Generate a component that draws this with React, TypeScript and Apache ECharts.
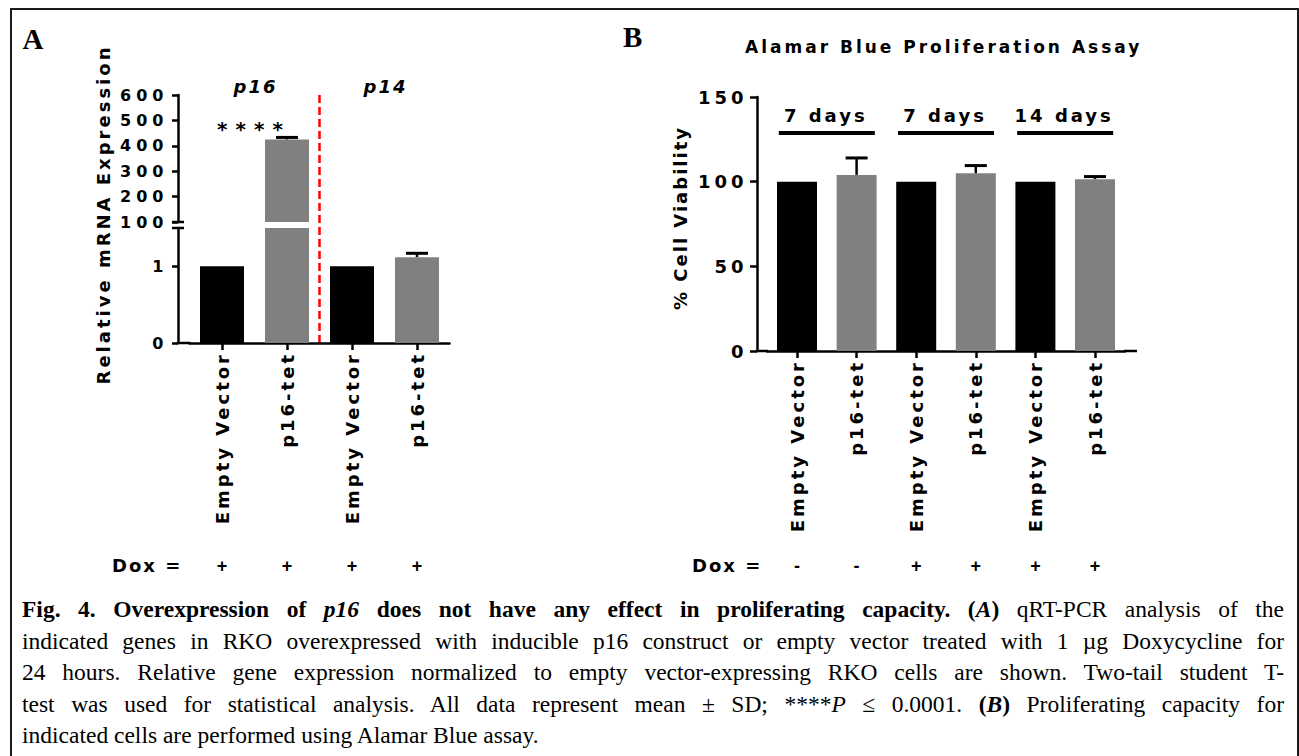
import React, { useEffect, useRef } from "react";
import * as echarts from "echarts";

// ---------------- data ----------------
// Panel A: qRT-PCR, relative mRNA expression
const categoriesA = ["Empty Vector", "p16-tet", "Empty Vector", "p16-tet"];
const meanA = [1, 425, 1, 1.12];
const sdTopA = [1, 433, 1, 1.17];
const doxA = ["+", "+", "+", "+"];
const genesA = ["p16", "p14"];
const significanceA = "****";
const upperMinA = 100;
const upperMaxA = 600;
const upperStepA = 100;
const lowerMinA = 0;
const lowerMaxA = 1.5;
const lowerStepA = 1;

// Panel B: Alamar Blue proliferation assay, % cell viability
const categoriesB = ["Empty Vector", "p16-tet", "Empty Vector", "p16-tet", "Empty Vector", "p16-tet"];
const meanB = [100, 104, 100, 105, 100, 101.5];
const sdTopB = [100, 114, 100, 109.5, 100, 103];
const doxB = ["-", "-", "+", "+", "+", "+"];
const durationsB = ["7 days", "7 days", "14 days"];
const minB = 0;
const maxB = 150;
const stepB = 50;

const barColors = ["#000000", "#808080"];

// ---------------- layout ----------------
const A_LEFT = 189.5;
const A_CAT = 65;
const A_WIDTH = A_CAT * categoriesA.length;
const A_UP_TOP = 95;
const A_UP_H = 127;
const A_LO_TOP = 228;
const A_LO_H = 115;
const A_AXIS_X = 178;
const A_BASE_Y = A_LO_TOP + A_LO_H;

const B_LEFT = 767.2;
const B_CAT = 59.6;
const B_WIDTH = B_CAT * categoriesB.length;
const B_TOP = 97;
const B_H = 254;
const B_AXIS_X = 757;
const B_BASE_Y = B_TOP + B_H;
const B_AXIS_END = 1137;

const DOX_Y = 565.5;

const SANS = "'Liberation Sans', Arial, sans-serif";
const fam = (tag: string) => `'DejaVu Sans', ${tag}, sans-serif`;
const SERIF = "'Liberation Serif', 'Times New Roman', serif";

const css = `
text[style*="lspc2"]{letter-spacing:2px}
text[style*="lspc3"]{letter-spacing:3px}
text[style*="lspc4"]{letter-spacing:4px}
text[style*="lspc5"]{letter-spacing:5px}
text[style*="lspc8"]{letter-spacing:8px}
`;

function errorRender(params: any, api: any) {
  const x = api.value(0);
  const m = api.value(1);
  const t = api.value(2);
  if (!(t > m)) return null;
  const p0 = api.coord([x, m]);
  const p1 = api.coord([x, t]);
  return {
    type: "group",
    children: [
      { type: "line", shape: { x1: p0[0], y1: p0[1], x2: p1[0], y2: p1[1] }, style: { stroke: "#000", lineWidth: 2.5 } },
      { type: "line", shape: { x1: p1[0] - 11, y1: p1[1], x2: p1[0] + 11, y2: p1[1] }, style: { stroke: "#000", lineWidth: 3 } },
    ],
  };
}

function txt(text: string, x: number, y: number, size: number, family: string, opts: any = {}) {
  const align = opts.align || "center";
  return {
    type: "text",
    x,
    y,
    rotation: opts.rotation || 0,
    silent: true,
    style: {
      text,
      fill: "#000",
      fontSize: size,
      fontWeight: opts.weight || "bold",
      fontStyle: opts.italic ? "italic" : "normal",
      fontFamily: family,
      align,
      textAlign: align,
      verticalAlign: "middle",
      textVerticalAlign: "middle",
    },
  };
}

function line(x1: number, y1: number, x2: number, y2: number, w: number, color = "#000", dash?: number[]) {
  return {
    type: "line",
    silent: true,
    shape: { x1, y1, x2, y2 },
    style: { stroke: color, lineWidth: w, lineDash: dash },
  };
}

const axisLineStyle = { show: true, lineStyle: { color: "#000", width: 2.5 } };
const tickStyle = (len: number) => ({ show: true, length: len, lineStyle: { color: "#000", width: 2.5 } });

function buildOption() {
  const colored = (vals: (number | string)[]) =>
    vals.map((v, i) => ({ value: v, itemStyle: { color: barColors[i % 2] } }));

  const graphics: any[] = [];
  // frame
  graphics.push({
    type: "rect",
    silent: true,
    shape: { x: 11, y: 9, width: 1287, height: 780 },
    style: { fill: "none", stroke: "#1a1a1a", lineWidth: 2 },
  });
  // panel letters
  graphics.push(txt("A", 22.5, 38.5, 29, SERIF, { align: "left" }));
  graphics.push(txt("B", 623, 37, 29, SERIF, { align: "left" }));

  // ---- panel A annotations ----
  graphics.push(txt("Relative mRNA Expression", 103, 214.5, 18, fam("lspc3"), { rotation: Math.PI / 2 }));
  genesA.forEach((g, k) => {
    graphics.push(txt(g, A_LEFT + A_CAT * (2 * k + 1) + 1, 86.8, 18, fam("lspc2"), { italic: true }));
  });
  graphics.push(txt(significanceA, 254, 128.7, 20, fam("lspc8")));
  // red dashed separator between genes
  graphics.push(line(A_LEFT + 2 * A_CAT, A_UP_TOP, A_LEFT + 2 * A_CAT, A_BASE_Y, 2.5, "#ff0000", [8, 4]));
  // axis break marks
  graphics.push(line(172, A_UP_TOP + A_UP_H, 184, A_UP_TOP + A_UP_H, 2.5));
  graphics.push(line(172, A_LO_TOP, 184, A_LO_TOP, 2.5));
  // x axis extension to the y axis
  graphics.push(line(A_AXIS_X - 1.25, A_BASE_Y, A_LEFT + 1, A_BASE_Y, 2.5));
  // Dox row
  graphics.push(txt("Dox =", 112, DOX_Y, 18, fam("lspc2"), { align: "left" }));
  doxA.forEach((d, i) => graphics.push(txt(d, A_LEFT + A_CAT * (i + 0.5), DOX_Y, 18, SANS)));

  // ---- panel B annotations ----
  graphics.push(txt("% Cell Viability", 680, 218, 18, fam("lspc2"), { rotation: Math.PI / 2 }));
  durationsB.forEach((d, k) => {
    const cx = B_LEFT + B_CAT * (2 * k + 1);
    graphics.push(line(cx - 48, 133, cx + 48, 133, 4));
    graphics.push(txt(d, cx - 1, 115.7, 18, fam("lspc3")));
  });
  graphics.push(line(B_AXIS_X - 1.25, B_BASE_Y, B_LEFT + 1, B_BASE_Y, 2.5));
  graphics.push(line(B_LEFT + B_WIDTH - 1, B_BASE_Y, B_AXIS_END, B_BASE_Y, 2.5));
  graphics.push(txt("Dox =", 692, DOX_Y, 18, fam("lspc2"), { align: "left" }));
  doxB.forEach((d, i) => graphics.push(txt(d, B_LEFT + B_CAT * (i + 0.5), DOX_Y, 18, SANS)));

  const xLabel = {
    show: true,
    rotate: 90,
    margin: 9,
    interval: 0,
    fontSize: 18,
    fontWeight: "bold",
    fontFamily: fam("lspc3"),
    color: "#000",
  };
  const yLabel = (size: number, margin: number, tag: string) => ({
    show: true,
    margin,
    fontSize: size,
    fontWeight: "bold",
    fontFamily: fam(tag),
    color: "#000",
  });

  return {
    animation: false,
    backgroundColor: "#ffffff",
    title: {
      text: "Alamar Blue Proliferation Assay",
      left: 745,
      top: 38.5,
      padding: 0,
      textStyle: { fontSize: 17, fontWeight: "bold", fontFamily: fam("lspc3"), color: "#000" },
    },
    grid: [
      { left: A_LEFT, top: A_UP_TOP, width: A_WIDTH, height: A_UP_H, outerBoundsMode: "none", containLabel: false },
      { left: A_LEFT, top: A_LO_TOP, width: A_WIDTH, height: A_LO_H, outerBoundsMode: "none", containLabel: false },
      { left: B_LEFT, top: B_TOP, width: B_WIDTH, height: B_H, outerBoundsMode: "none", containLabel: false },
    ],
    xAxis: [
      { gridIndex: 0, type: "category", data: categoriesA, show: false },
      {
        gridIndex: 1,
        type: "category",
        data: categoriesA,
        axisLine: axisLineStyle,
        axisTick: { ...tickStyle(7), alignWithLabel: true, interval: 0 },
        axisLabel: xLabel,
        splitLine: { show: false },
      },
      {
        gridIndex: 2,
        type: "category",
        data: categoriesB,
        axisLine: axisLineStyle,
        axisTick: { ...tickStyle(7), alignWithLabel: true, interval: 0 },
        axisLabel: xLabel,
        splitLine: { show: false },
      },
    ],
    yAxis: [
      {
        gridIndex: 0,
        type: "value",
        min: upperMinA,
        max: upperMaxA,
        interval: upperStepA,
        offset: A_LEFT - A_AXIS_X,
        axisLine: axisLineStyle,
        axisTick: tickStyle(6),
        axisLabel: yLabel(16, 9.5, "lspc5"),
        splitLine: { show: false },
      },
      {
        gridIndex: 1,
        type: "value",
        min: lowerMinA,
        max: lowerMaxA,
        interval: lowerStepA,
        offset: A_LEFT - A_AXIS_X,
        axisLine: axisLineStyle,
        axisTick: tickStyle(6),
        axisLabel: { ...yLabel(16, 9.5, "lspc5"), showMaxLabel: false },
        splitLine: { show: false },
      },
      {
        gridIndex: 2,
        type: "value",
        min: minB,
        max: maxB,
        interval: stepB,
        offset: B_LEFT - B_AXIS_X,
        axisLine: axisLineStyle,
        axisTick: tickStyle(7),
        axisLabel: yLabel(18, 9.5, "lspc4"),
        splitLine: { show: false },
      },
    ],
    series: [
      {
        type: "bar",
        name: "A upper",
        xAxisIndex: 0,
        yAxisIndex: 0,
        barWidth: 44,
        clip: true,
        data: colored(meanA.map((v) => (v > upperMinA ? v : "-"))),
      },
      {
        type: "bar",
        name: "A lower",
        xAxisIndex: 1,
        yAxisIndex: 1,
        barWidth: 44,
        clip: true,
        data: colored(meanA),
      },
      {
        type: "custom",
        name: "A upper SD",
        xAxisIndex: 0,
        yAxisIndex: 0,
        z: 5,
        encode: { x: 0, y: 1 },
        renderItem: errorRender,
        data: meanA.map((m, i) => [i, m, sdTopA[i]]).filter((d) => d[1] > upperMinA),
      },
      {
        type: "custom",
        name: "A lower SD",
        xAxisIndex: 1,
        yAxisIndex: 1,
        z: 5,
        encode: { x: 0, y: 1 },
        renderItem: errorRender,
        data: meanA.map((m, i) => [i, m, sdTopA[i]]).filter((d) => d[2] <= lowerMaxA),
      },
      {
        type: "bar",
        name: "B",
        xAxisIndex: 2,
        yAxisIndex: 2,
        barWidth: 40,
        data: colored(meanB),
      },
      {
        type: "custom",
        name: "B SD",
        xAxisIndex: 2,
        yAxisIndex: 2,
        z: 5,
        encode: { x: 0, y: 1 },
        renderItem: errorRender,
        data: meanB.map((m, i) => [i, m, sdTopB[i]]),
      },
    ],
    graphic: { elements: graphics },
  };
}

const lineJust: React.CSSProperties = {
  textAlign: "justify",
  textAlignLast: "justify" as any,
  whiteSpace: "nowrap",
  height: 31.5,
};

export default function App() {
  const ref = useRef<HTMLDivElement>(null);
  useEffect(() => {
    if (!ref.current) return;
    const chart = echarts.init(ref.current, undefined, { renderer: "svg" });
    chart.setOption(buildOption() as any);
    return () => chart.dispose();
  }, []);
  return (
    <div style={{ position: "absolute", left: 0, top: 0, width: 1299, height: 756, background: "#fff", overflow: "hidden" }}>
      <style>{css}</style>
      <div ref={ref} style={{ position: "absolute", left: 0, top: 0, width: 1299, height: 756 }} />
      <div
        style={{
          position: "absolute",
          left: 22,
          top: 594.3,
          width: 1262,
          fontFamily: SERIF,
          fontSize: 23.5,
          lineHeight: "31.5px",
          color: "#000",
        }}
      >
        <div style={lineJust}>
          <b>
            Fig. 4. Overexpression of <i>p16</i> does not have any effect in proliferating capacity. (<i>A</i>)
          </b>{" "}
          qRT-PCR analysis of the
        </div>
        <div style={lineJust}>
          indicated genes in RKO overexpressed with inducible p16 construct or empty vector treated with 1 µg Doxycycline for
        </div>
        <div style={lineJust}>
          24 hours. Relative gene expression normalized to empty vector-expressing RKO cells are shown. Two-tail student T-
        </div>
        <div style={lineJust}>
          test was used for statistical analysis. All data represent mean ± SD; ****<i>P</i> ≤ 0.0001.{" "}
          <b>
            (<i>B</i>)
          </b>{" "}
          Proliferating capacity for
        </div>
        <div style={{ height: 31.5, whiteSpace: "nowrap" }}>indicated cells are performed using Alamar Blue assay.</div>
      </div>
    </div>
  );
}
